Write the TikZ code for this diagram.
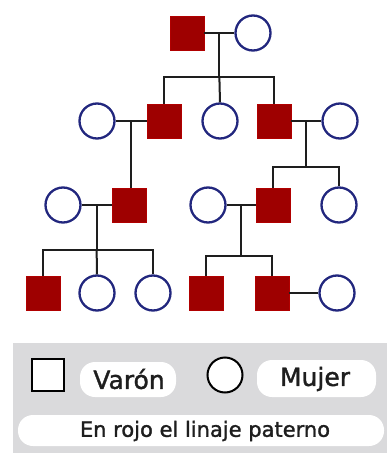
\documentclass[tikz,border=0pt]{standalone}
\usepackage{fontspec}
\setmainfont{DejaVu Sans}[FakeBold=1.4]
\usetikzlibrary{calc}
\definecolor{lineagered}{HTML}{9E0000}
\definecolor{femaleblue}{HTML}{22277E}
\definecolor{panelgray}{HTML}{DADADC}
\definecolor{inkgray}{HTML}{1E1E1E}
\tikzset{
  male/.style={rectangle, draw=lineagered!80!red, fill=lineagered, line width=0.8pt,
    minimum size=34pt, inner sep=0pt},
  female/.style={circle, draw=femaleblue, fill=white, line width=2.3pt,
    minimum size=35pt, inner sep=0pt},
  kin/.style={draw=inkgray, line width=2pt},
  pill/.style={fill=white, rounded corners=15pt, draw=none},
  legendtext/.style={text=inkgray, inner sep=0pt, anchor=center}
}
\begin{document}
\begin{tikzpicture}[x=1pt, y=-1pt]
\useasboundingbox (0,0) rectangle (387,453);
\fill[white] (0,0) rectangle (387,453);

% generation 1
\node[male]   (s1)  at (187,33) {};
\node[female] (c1)  at (253,33) {};
% generation 2
\node[female] (c2a) at (97,121)  {};
\node[male]   (s2a) at (164,121) {};
\node[female] (c2b) at (220,121) {};
\node[male]   (s2b) at (274,121) {};
\node[female] (c2c) at (340,121) {};
% generation 3
\node[female] (c3a) at (63,205)  {};
\node[male]   (s3a) at (129,205) {};
\node[female] (c3b) at (208,205) {};
\node[male]   (s3b) at (273,205) {};
\node[female] (c3c) at (339,205) {};
% generation 4
\node[male]   (s4a) at (43,293)  {};
\node[female] (c4a) at (97,293)  {};
\node[female] (c4b) at (153,293) {};
\node[male]   (s4b) at (206,293) {};
\node[male]   (s4c) at (272,293) {};
\node[female] (c4c) at (337,293) {};

% couples
\draw[kin] (s1.east) -- (c1.west);
\draw[kin] (c2a.east) -- (s2a.west);
\draw[kin] (s2b.east) -- (c2c.west);
\draw[kin] (c3a.east) -- (s3a.west);
\draw[kin] (c3b.east) -- (s3b.west);
\draw[kin] (s4c.east) -- (c4c.west);

% marriage midpoints
\coordinate (m1)  at ($(s1.east)!0.5!(c1.west)$);
\coordinate (m2a) at ($(c2a.east)!0.5!(s2a.west)$);
\coordinate (m2b) at ($(s2b.east)!0.5!(c2c.west)$);
\coordinate (m3a) at ($(c3a.east)!0.5!(s3a.west)$);
\coordinate (m3b) at ($(c3b.east)!0.5!(s3b.west)$);

% sibship bars
\coordinate (b1)  at (m1 |- 0,77);
\coordinate (b2b) at (m2b |- 0,167);
\coordinate (b3a) at (m3a |- 0,250);
\coordinate (b3b) at (m3b |- 0,256);

% descent lines
\draw[kin] (m1) -- (b1);
\draw[kin] (s2a.north) |- (b1) -| (s2b.north);
\draw[kin] (b1) -- (c2b.north);

\draw[kin] (m2a) -- (m2a |- s3a.north);

\draw[kin] (m2b) -- (b2b);
\draw[kin] (s3b.north) |- (b2b) -| (c3c.north);

\draw[kin] (m3a) -- (b3a);
\draw[kin] (s4a.north) |- (b3a) -| (c4b.north);
\draw[kin] (b3a) -- (c4a.north);

\draw[kin] (m3b) -- (b3b);
\draw[kin] (s4b.north) |- (b3b) -| (s4c.north);

% legend panel
\fill[panelgray] (13,343) rectangle (387,453);
\fill[pill] (80,362) rectangle (176,397);
\fill[pill] (257,360) rectangle (376,397);
\fill[pill] (18,415) rectangle (384,446);

\node[rectangle, draw=black, line width=1.8pt, fill=white, minimum size=32pt, inner sep=0pt]
  (keymale) at (48,375) {};
\node[circle, draw=black, line width=2pt, fill=white, minimum size=35pt, inner sep=0pt]
  (keyfemale) at (225,375) {};
\node[legendtext, font=\fontsize{25}{28}\selectfont] (varon) at (129,379) {Varón};
\node[legendtext, font=\fontsize{25}{28}\selectfont] (mujer) at (315,379) {Mujer};
\node[legendtext, font=\fontsize{21}{24}\selectfont] (nota) at (205,431) {En rojo el linaje paterno};
\end{tikzpicture}
\end{document}
